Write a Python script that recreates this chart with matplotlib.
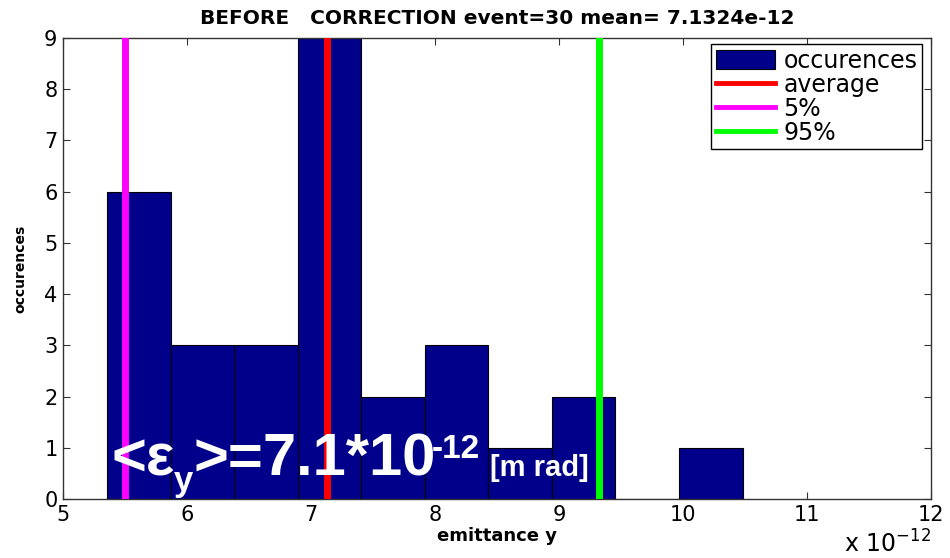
import numpy as np
import matplotlib
matplotlib.use("Agg")
import matplotlib.pyplot as plt

# ---- data (emittance in units of 1e-12) ----
bin_edges = [5.355, 5.867, 6.380, 6.892, 7.405, 7.917, 8.430, 8.942, 9.455, 9.967, 10.480]
counts = [6, 3, 3, 9, 2, 3, 1, 2, 0, 1]
mean_val = 7.1324
p5_val = 5.50
p95_val = 9.32
x_ticks = [5, 6, 7, 8, 9, 10, 11, 12]
y_ticks = [0, 1, 2, 3, 4, 5, 6, 7, 8, 9]
title = "BEFORE   CORRECTION event=30 mean= 7.1324e-12"

plt.rcParams['font.family'] = ['DejaVu Sans']
plt.rcParams['mathtext.fontset'] = 'custom'
plt.rcParams['mathtext.rm'] = 'DejaVu Sans'
plt.rcParams['mathtext.bf'] = 'Liberation Sans:bold'

W, H = 950, 558
fig = plt.figure(figsize=(W / 100, H / 100), dpi=100)
L, R, T, B = 63, 931, 38, 499
ax = fig.add_axes([L / W, 1 - B / H, (R - L) / W, (B - T) / H])

edges = np.array(bin_edges)
h_bar = ax.bar(edges[:-1], counts, width=np.diff(edges), align='edge',
               color='#00008B', edgecolor='black', linewidth=0.8, label='occurences', zorder=2)
h_avg = ax.axvline(mean_val, color='#FF0000', linewidth=5, label='average', zorder=3)
h_p5 = ax.axvline(p5_val, color='#FF00FF', linewidth=5, label='5%', zorder=3)
h_p95 = ax.axvline(p95_val, color='#00FF00', linewidth=5, label='95%', zorder=3)

ax.set_xlim(5, 12)
ax.set_ylim(0, 9)
ax.set_xticks(x_ticks)
ax.set_yticks(y_ticks)
ax.tick_params(direction='in', top=True, right=True, length=5, width=0.8,
               labelsize=15, color='#333333', pad=4)
for s in ax.spines.values():
    s.set_linewidth(1.0)
    s.set_color('#333333')

ax.set_title(title, fontsize=14.5, fontweight='bold', pad=10)
ax.set_xlabel('emittance y', fontsize=13, fontweight='bold', labelpad=2)
ax.set_ylabel('occurences', fontsize=10, fontweight='bold', labelpad=12)

leg = ax.legend([h_bar, h_avg, h_p5, h_p95], ['occurences', 'average', '5%', '95%'],
                loc='upper right', bbox_to_anchor=((922 - L) / (R - L), (B - 44) / (B - T)),
                borderaxespad=0, fontsize=17, fancybox=False, framealpha=1,
                edgecolor='black', handlelength=2.5, handleheight=0.8,
                handletextpad=0.35, labelspacing=0.0, borderpad=0.2)
leg.get_frame().set_linewidth(1.0)
for ln in leg.get_lines():
    ln.set_linewidth(3.5)

# multiplier text
fig.text(R / W, 5 / H, r'x 10$^{-12}$', ha='right', va='baseline', fontsize=17)


def axfrac(px, py):
    return (px - L) / (R - L), (B - py) / (B - T)


# annotation overlay (white bold text)
big = dict(transform=ax.transAxes, ha='left', va='baseline', color='white',
           fontweight='bold', family='Liberation Sans', zorder=5)
ax.text(*axfrac(112, 475), '<ε', fontsize=43, **big)
ax.text(*axfrac(174, 491), 'y', fontsize=25, **big)
ax.text(*axfrac(194, 475), '>=7.1*10', fontsize=43, **big)
ax.text(*axfrac(432, 458), '-12', fontsize=24, **big)
ax.text(*axfrac(490, 476), '[m rad]', fontsize=21, **big)

fig.savefig('out.png', dpi=100)
